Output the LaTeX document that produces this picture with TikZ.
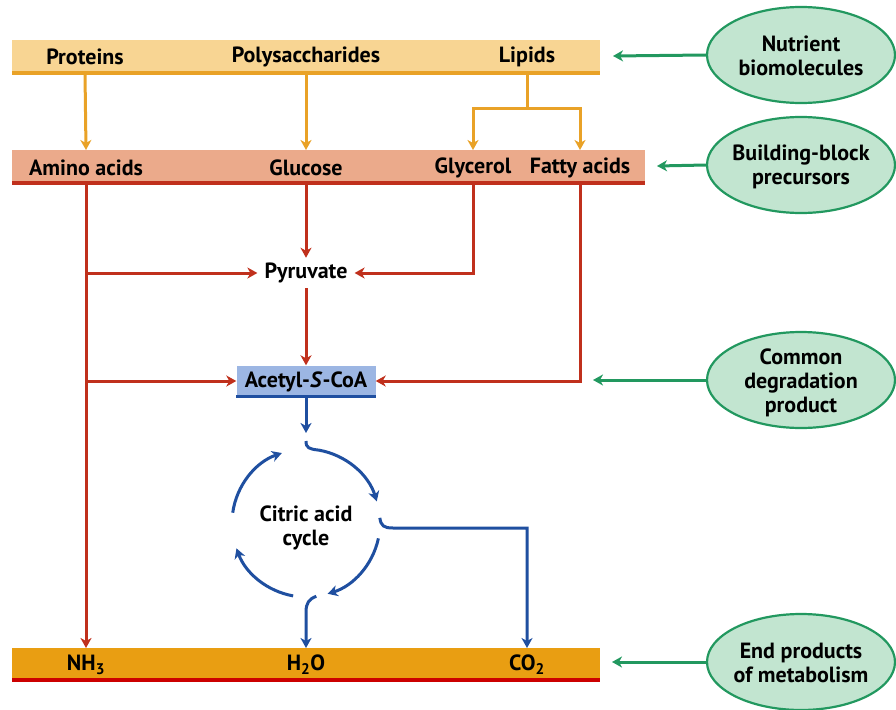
\documentclass[tikz,border=0pt]{standalone}
\usepackage{fontspec}
\setmainfont{PT Sans}
\usetikzlibrary{arrows.meta,shapes.geometric,calc}
\definecolor{ybar}{HTML}{F8D593}
\definecolor{yline}{HTML}{E9A227}
\definecolor{sbar}{HTML}{EBAA8B}
\definecolor{rline}{HTML}{C0301C}
\definecolor{obar}{HTML}{E99E12}
\definecolor{bline}{HTML}{1F4FA0}
\definecolor{bbox}{HTML}{9CB6E3}
\definecolor{gline}{HTML}{22985F}
\definecolor{gfill}{HTML}{C2E5D0}
\begin{document}
\begin{tikzpicture}[x=1pt,y=-1pt,
  lbl/.style={font=\bfseries\fontsize{22}{24}\selectfont, inner sep=0pt},
  bar/.style={rectangle, inner sep=0pt, anchor=north west, minimum height=33pt},
  tip/.style={-{Stealth[length=10pt,width=11pt,inset=3pt]}},
  oarr/.style={tip, draw=yline, line width=3pt},
  rarr/.style={tip, draw=rline, line width=3pt},
  barr/.style={tip, draw=bline, line width=3pt},
  garr/.style={tip, draw=gline, line width=3pt},
  ell/.style={ellipse, draw=gline, fill=gfill, line width=2.2pt, minimum width=188pt, minimum height=96pt, inner sep=0pt}
]
\useasboundingbox (0,0) rectangle (896,709);

% bars
\node[bar, fill=ybar, minimum width=588pt] (nb) at (12,40) {};
\draw[yline, line width=4pt] (nb.south west) -- (nb.south east);
\node[bar, fill=sbar, minimum width=633pt] (bb) at (12,150) {};
\draw[rline, line width=4pt] (bb.south west) -- (bb.south east);
\node[bar, fill=obar, minimum width=588pt, minimum height=32pt] (eb) at (12,648) {};
\draw[red!80!black, line width=4pt] (eb.south west) -- (eb.south east);

% labels
\node[lbl] (prot) at (85,57) {Proteins};
\node[lbl] (poly) at (306,57) {Polysaccharides};
\node[lbl] (lip) at (527,57) {Lipids};
\node[lbl] (aa) at (86,168) {Amino acids};
\node[lbl] (glu) at (306,168) {Glucose};
\node[lbl] (gly) at (473,168) {Glycerol};
\node[lbl] (fa) at (580,168) {Fatty acids};
\node[lbl] (nh) at (86,665) {NH\textsubscript{3}};
\node[lbl] (ho) at (306,665) {H\textsubscript{2}O};
\node[lbl] (co) at (527,665) {CO\textsubscript{2}};

\node[lbl, inner xsep=7pt, inner ysep=5pt] (pyr) at (306,273) {Pyruvate};
\node[rectangle, fill=bbox, minimum width=139pt, minimum height=31pt, inner sep=0pt] (acb) at (306,381) {};
\draw[bline, line width=3.5pt] (acb.south west) -- (acb.south east);
\node[lbl] (ac) at ($(acb)+(0,1)$) {Acetyl-\textit{S}-CoA};

% orange arrows
\draw[oarr] (prot |- nb.south) -- (aa |- bb.north);
\draw[oarr] (poly |- nb.south) -- (glu |- bb.north);
\coordinate (lj) at (527,108);
\draw[yline, line width=3pt] (lip |- nb.south) -- (lj);
\draw[oarr] (lj) -| (gly |- bb.north);
\draw[oarr] (lj) -| (fa |- bb.north);

% red arrows
\draw[rarr] (aa |- bb.south) -- (aa |- eb.north);
\draw[rarr] (aa |- pyr) -- (pyr.west);
\draw[rarr] (aa |- acb) -- (acb.west);
\draw[rarr] (glu |- bb.south) -- (pyr.north);
\draw[rarr] (gly |- bb.south) |- (pyr.east);
\draw[rarr] (pyr.south) -- (acb.north);
\draw[rarr] (fa |- bb.south) |- (acb.east);

% citric acid cycle
\coordinate (cc) at (306,523);
\node[lbl, align=center, font=\bfseries\fontsize{22}{24}\selectfont] (cyc) at (306,528) {Citric acid\\cycle};
\coordinate (ctop) at (306,433);
\draw[barr] (acb.south) -- (ctop);
\draw[barr] (306,441) .. controls (306,448) and (309,449) .. ($(cc)+(-80:74)$) arc[start angle=-80, end angle=-17, radius=74];
\draw[barr] ($(cc)+(12:74)$) arc[start angle=12, end angle=73, radius=74];
\draw[barr] ($(cc)+(100:74)$) arc[start angle=100, end angle=160, radius=74];
\draw[barr] ($(cc)+(188:74)$) arc[start angle=188, end angle=251, radius=74];
\draw[barr] ($(cc)+(-4:74)$) .. controls (381,526) and (384,528) .. (393,528) -| (co |- eb.north);
\draw[barr] ($(cc)+(82:74)$) .. controls (309,599) and (306,603) .. (306,612) -- (ho |- eb.north);

% ellipses
\node[ell] (e1) at (801,55) {};
\node[lbl, align=center] at ($(e1)+(0,1)$) {Nutrient\\biomolecules};
\node[ell] (e2) at (801,165) {};
\node[lbl, align=center] at ($(e2)+(0,2)$) {Building-block\\precursors};
\node[ell] (e3) at (801,380) {};
\node[lbl, align=center] at ($(e3)+(0,3)$) {Common\\degradation\\product};
\node[ell] (e4) at (801,662) {};
\node[lbl, align=center] at ($(e4)+(0,1)$) {End products\\of metabolism};

\coordinate (g1) at (613,56);
\coordinate (g2) at (657,166);
\coordinate (g3) at (593,380);
\coordinate (g4) at (612,662);
\draw[garr] (e1.west) -- (g1);
\draw[garr] (e2.west) -- (g2);
\draw[garr] (e3.west) -- (g3);
\draw[garr] (e4.west) -- (g4);
\end{tikzpicture}
\end{document}
